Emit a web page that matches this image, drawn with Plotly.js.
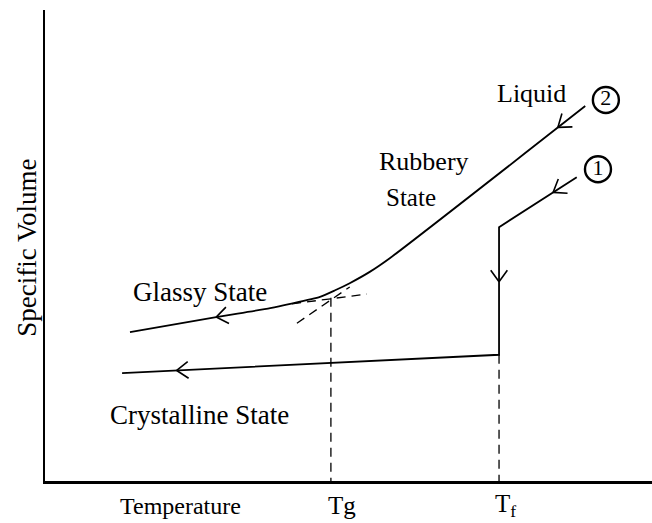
<!DOCTYPE html>
<html><head><meta charset="utf-8">
<script src="https://cdn.plot.ly/plotly-3.0.1.min.js"></script>
<style>html,body{margin:0;padding:0;background:#fff}</style>
</head><body><div id="chart" style="width:652px;height:523px"></div>
<script>
// Path 2: liquid -> rubbery -> glassy (amorphous cooling)
const amorphousT = [89.0, 56.8, 53.5, 50.2, 47.8, 45.3, 40.4, 37.1, 28.2, 14.0];
const amorphousV = [79.6, 47.3, 44.4, 42.0, 40.5, 39.1, 37.6, 36.7, 34.8, 31.6];
// Path 1: liquid -> crystallization at Tf -> crystalline
const crystT = [87.6, 74.8, 74.8, 12.7];
const crystV = [64.5, 53.9, 26.8, 22.9];
// Characteristic temperatures
const Tg = 47.1, Tf = 74.8;
const TgTop = 38.9, TfTop = 26.8;
// Tangent extensions (dashed)
const glassyExtT = [40.7, 53.0], glassyExtV = [37.6, 39.7];
const rubberyExtT = [41.5, 50.2], rubberyExtV = [33.5, 41.2];
// Direction arrows (tip and a point behind it, both on the paths)
const arrowTipT  = [28.2, 21.7, 74.8, 84.5, 83.7];
const arrowTipV  = [34.8, 23.47, 42.3, 75.09, 61.27];
const arrowTailT = [32.6, 30.5, 74.8, 88.1, 87.0];
const arrowTailV = [35.75, 24.02, 49.0, 78.7, 64.0];
// Path numbers
const pathNumT = [92.4, 91.1], pathNumV = [80.9, 66.2], pathNumText = ['2', '1'];
// State labels
const labelText = ['Liquid', 'Rubbery', 'State', 'Glassy State', 'Crystalline State'];
const labelT = [80.2, 62.4, 60.3, 25.5, 25.4];
const labelV = [82.2, 67.9, 60.1, 40.1, 14.0];
const labelSize = [26, 26, 25, 27, 27];
// Axis labels
const axisLabelText = ['Temperature', 'Tg', 'T<sub>f</sub>'];
const axisLabelT = [22.4, 48.9, 75.8];

const W = 652, H = 523, M = {l: 45, r: 0, t: 10, b: 42};
const xRange = [0, 100], yRange = [0, 100];
const serif = 'Liberation Serif, Times New Roman, serif';
const solid = {color: '#000', width: 1.8};
const dashed = {color: '#000', width: 1.3, dash: '9px,6px'};

const traces = [
  {x: amorphousT, y: amorphousV, mode: 'lines', line: Object.assign({shape: 'spline', smoothing: 0.6}, solid)},
  {x: crystT, y: crystV, mode: 'lines', line: solid},
  {x: [Tg, Tg], y: [TgTop, 0], mode: 'lines', line: dashed},
  {x: [Tf, Tf], y: [TfTop, 0], mode: 'lines', line: dashed},
  {x: glassyExtT, y: glassyExtV, mode: 'lines', line: dashed},
  {x: rubberyExtT, y: rubberyExtV, mode: 'lines', line: dashed},
  {x: pathNumT, y: pathNumV, mode: 'markers+text', text: pathNumText, textposition: 'middle center',
   textfont: {family: serif, size: 22, color: '#000'}, cliponaxis: false,
   marker: {symbol: 'circle-open', size: 26, color: '#000', line: {width: 2.4, color: '#000'}}}
];

// Open chevron arrowheads: two short wings drawn back from each tip
const pxPerT = (W - M.l - M.r) / (xRange[1] - xRange[0]);
const pxPerV = (H - M.t - M.b) / (yRange[1] - yRange[0]);
const wingLen = 16, halfAngle = 36 * Math.PI / 180;
const annotations = [];
for (let i = 0; i < arrowTipT.length; i++) {
  const dx = (arrowTailT[i] - arrowTipT[i]) * pxPerT;
  const dy = -(arrowTailV[i] - arrowTipV[i]) * pxPerV;
  const len = Math.hypot(dx, dy), ux = dx / len, uy = dy / len;
  [-1, 1].forEach(function (s) {
    const a = s * halfAngle;
    const wx = ux * Math.cos(a) - uy * Math.sin(a);
    const wy = ux * Math.sin(a) + uy * Math.cos(a);
    annotations.push({x: arrowTipT[i], y: arrowTipV[i], xref: 'x', yref: 'y',
      ax: wx * wingLen, ay: wy * wingLen, axref: 'pixel', ayref: 'pixel',
      text: '', showarrow: true, arrowhead: 0, arrowwidth: 1.6, arrowcolor: '#000'});
  });
}
for (let i = 0; i < labelText.length; i++) {
  annotations.push({x: labelT[i], y: labelV[i], xref: 'x', yref: 'y', text: labelText[i], showarrow: false,
    xanchor: 'center', yanchor: 'middle', font: {family: serif, size: labelSize[i], color: '#000'}});
}
for (let i = 0; i < axisLabelText.length; i++) {
  annotations.push({x: axisLabelT[i], y: -0.053, xref: 'x', yref: 'paper', text: axisLabelText[i], showarrow: false,
    xanchor: 'center', yanchor: 'middle', font: {family: serif, size: i === 0 ? 24 : 25, color: '#000'}});
}
annotations.push({x: -0.0297, y: 0.495, xref: 'paper', yref: 'paper', text: 'Specific Volume', showarrow: false,
  textangle: -90, xanchor: 'center', yanchor: 'middle', font: {family: serif, size: 27, color: '#000'}});

const layout = {
  width: W, height: H,
  margin: M,
  paper_bgcolor: '#fff', plot_bgcolor: '#fff',
  showlegend: false,
  xaxis: {range: xRange, showline: true, linewidth: 2.5, linecolor: '#000', showgrid: false,
          zeroline: false, showticklabels: false, ticks: ''},
  yaxis: {range: yRange, showline: true, linewidth: 2.5, linecolor: '#000', showgrid: false,
          zeroline: false, showticklabels: false, ticks: ''},
  annotations: annotations
};
Plotly.newPlot('chart', traces, layout, {displayModeBar: false, staticPlot: true});
</script></body></html>
